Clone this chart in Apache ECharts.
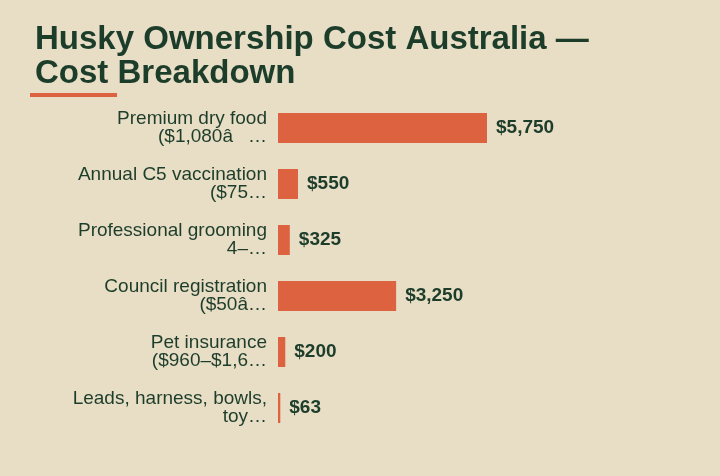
<!DOCTYPE html>
<html><head><meta charset="utf-8">
<script src="https://cdn.jsdelivr.net/npm/echarts@6/dist/echarts.min.js"></script>
<style>html,body{margin:0;padding:0;background:#e8ddc5;}#c{width:720px;height:476px;}</style>
</head><body><div id="c"></div>
<script>
const categories = [
  "Premium dry food\n($1,080\u00e2\u0080\u2026",
  "Annual C5 vaccination\n($75\u2026",
  "Professional grooming\n4\u2013\u2026",
  "Council registration\n($50\u00e2\u2026",
  "Pet insurance\n($960\u2013$1,6\u2026",
  "Leads, harness, bowls,\ntoy\u2026"
];
const values = [5750, 550, 325, 3250, 200, 63];
const chart = echarts.init(document.getElementById('c'));
chart.setOption({
  backgroundColor: '#e8ddc5',
  title: {
    text: 'Husky Ownership Cost Australia \u2014\nCost Breakdown',
    left: 30, top: 18,
    textStyle: {fontFamily: 'Liberation Sans', fontSize: 33, fontWeight: 'bold', color: '#1d3d2b', lineHeight: 34}
  },
  graphic: [{type: 'rect', left: 30, top: 93, shape: {width: 87, height: 4}, style: {fill: '#dd6240'}}],
  grid: {left: 278, width: 209, top: 100, height: 336},
  xAxis: {type: 'value', min: 0, max: 5750, show: false},
  yAxis: {
    type: 'category', data: categories, inverse: true,
    axisLine: {show: false}, axisTick: {show: false},
    axisLabel: {fontFamily: 'Liberation Sans', fontSize: 19, color: '#1d3d2b', lineHeight: 18, margin: 11, align: 'right'}
  },
  series: [{
    type: 'bar', data: values, barWidth: 30,
    itemStyle: {color: '#dd6240'},
    label: {show: true, position: 'right', distance: 9, fontFamily: 'Liberation Sans', fontSize: 19, fontWeight: 'bold', color: '#1d3d2b',
      formatter: p => '$' + p.value.toLocaleString('en-US')}
  }],
  animation: false
});
</script></body></html>
